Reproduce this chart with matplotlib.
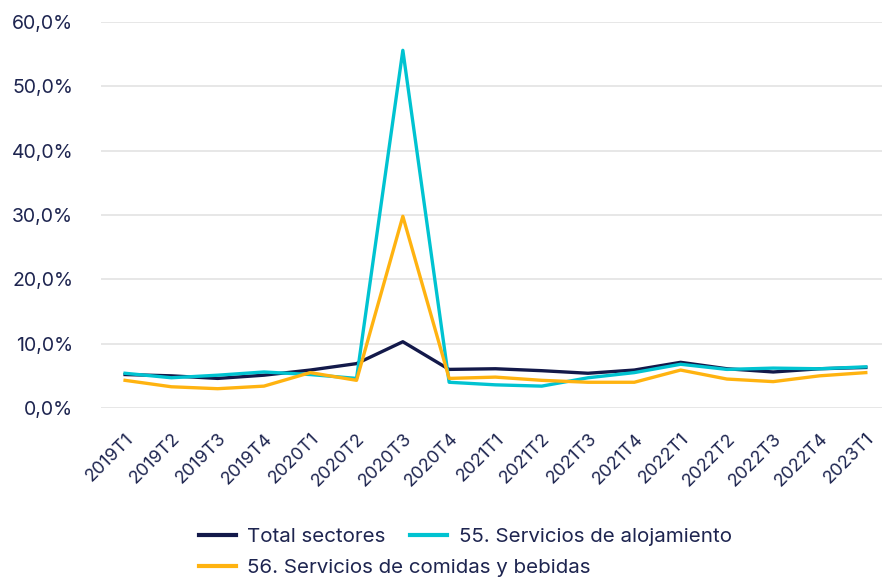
import matplotlib
matplotlib.use('Agg')
import matplotlib.pyplot as plt
from matplotlib.ticker import FuncFormatter

plt.rcParams['font.family'] = ['Inter', 'DejaVu Sans']

# quarters and series (% values)
periods = ['2019T1', '2019T2', '2019T3', '2019T4',
           '2020T1', '2020T2', '2020T3', '2020T4',
           '2021T1', '2021T2', '2021T3', '2021T4',
           '2022T1', '2022T2', '2022T3', '2022T4', '2023T1']
total = [5.2, 5.0, 4.6, 5.1, 5.9, 6.9, 10.3, 6.0, 6.1, 5.8, 5.4, 5.9, 7.1, 6.1, 5.6, 6.1, 6.3]
alojamiento = [5.4, 4.7, 5.1, 5.6, 5.2, 4.6, 55.6, 4.0, 3.6, 3.4, 4.7, 5.5, 6.8, 6.0, 6.2, 6.1, 6.4]
comidas = [4.3, 3.3, 3.0, 3.4, 5.5, 4.3, 29.8, 4.6, 4.8, 4.3, 4.0, 4.0, 5.9, 4.5, 4.1, 5.0, 5.5]

navy = '#13194a'
cyan = '#00c3d1'
orange = '#ffb310'
text_col = '#1e2550'

fig = plt.figure(figsize=(8.86, 5.8), dpi=100)
ax = fig.add_axes([101/886, 1 - 408/580, (882-101)/886, (408-22)/580])

x = range(len(periods))
l1, = ax.plot(x, total, color=navy, lw=2.4, label='Total sectores')
l2, = ax.plot(x, alojamiento, color=cyan, lw=2.4, label='55. Servicios de alojamiento')
l3, = ax.plot(x, comidas, color=orange, lw=2.4, label='56. Servicios de comidas y bebidas')

ax.set_ylim(0, 60)
ax.set_xlim(-0.52, len(periods) - 1 + 0.35)
ax.set_yticks(range(0, 61, 10))
ax.yaxis.set_major_formatter(FuncFormatter(lambda v, p: f'{v:.1f}%'.replace('.', ',')))
ax.grid(axis='y', color='#e3e3e3', lw=1.2)
ax.set_axisbelow(True)
for s in ax.spines.values():
    s.set_visible(False)

ax.set_xticks(list(x))
ax.set_xticklabels(periods, rotation=45, ha='right', rotation_mode='anchor')
ax.tick_params(axis='y', length=0, pad=20, labelsize=14, labelcolor=text_col)
ax.tick_params(axis='x', length=0, pad=16, labelsize=13, labelcolor=text_col)

# legend laid out as flowing rows: first row two entries, second row one
leg_kw = dict(loc='upper left', frameon=False, fontsize=14.8, handlelength=1.8,
              handletextpad=0.55, columnspacing=1.2, borderaxespad=0, borderpad=0)
leg1 = fig.legend([l1, l2], [l1.get_label(), l2.get_label()], ncol=2,
                  bbox_to_anchor=(199/886, 1 - 528/580), **leg_kw)
leg2 = fig.legend([l3], [l3.get_label()], ncol=1,
                  bbox_to_anchor=(199/886, 1 - 559/580), **leg_kw)
for leg in (leg1, leg2):
    for t in leg.get_texts():
        t.set_color(text_col)
    for h in leg.legend_handles:
        h.set_linewidth(3)

fig.savefig('out.png', dpi=100)
